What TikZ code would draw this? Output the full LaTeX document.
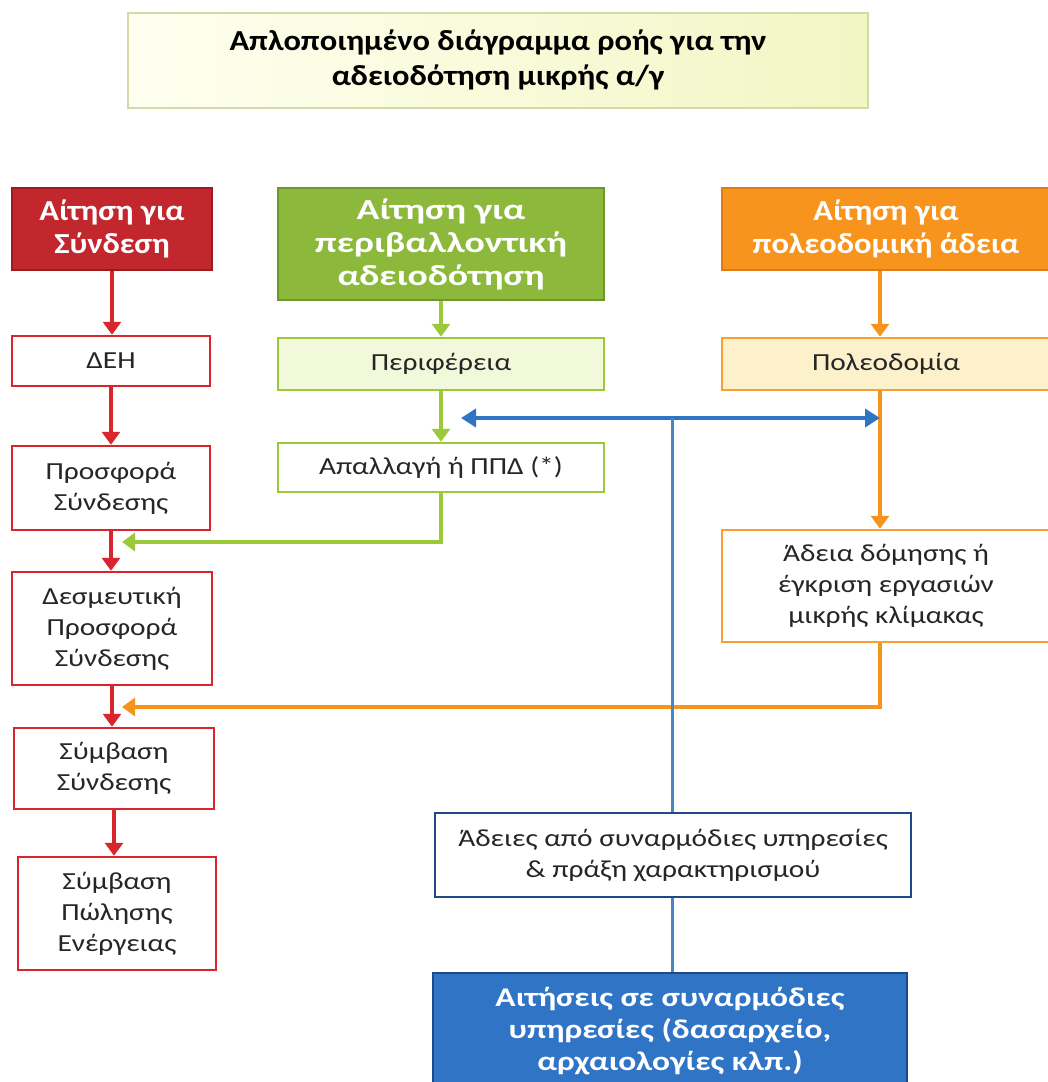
\documentclass[tikz,border=0pt]{standalone}
\usepackage{fontspec}
\setmainfont{Carlito}[FakeStretch=1.2]
\newfontfamily\titlefont{Carlito}[FakeStretch=1.12]
\newfontfamily\headfont{Carlito}[FakeStretch=1.12]
\newfontfamily\headfontw{Carlito}[FakeStretch=1.3]
\newfontfamily\reqfont{Carlito}[FakeStretch=1.24]
\usetikzlibrary{arrows.meta,calc}
\definecolor{hred}{HTML}{C1272D}
\definecolor{hredd}{HTML}{9A1C20}
\definecolor{bred}{HTML}{D8262C}
\definecolor{hgreen}{HTML}{8CB83C}
\definecolor{hgreend}{HTML}{6E962A}
\definecolor{lgreen}{HTML}{F2F8DA}
\definecolor{bgreen}{HTML}{9CC93A}
\definecolor{horange}{HTML}{F7941E}
\definecolor{horanged}{HTML}{E07A12}
\definecolor{lorange}{HTML}{FDF1CC}
\definecolor{borange}{HTML}{F7A035}
\definecolor{hblue}{HTML}{3074C6}
\definecolor{hblued}{HTML}{1F4A86}
\definecolor{bblue}{HTML}{4A84C8}
\definecolor{tborder}{HTML}{D2DAA8}
\definecolor{tleft}{HTML}{FFFFF0}
\definecolor{tright}{HTML}{F2F6C4}
\definecolor{txt}{HTML}{262626}
\begin{document}
\begin{tikzpicture}[x=1pt,y=-1pt,
  head/.style={align=center, inner sep=0pt, text=white, line width=2.5pt,
    font=\headfont\fontsize{29}{33}\selectfont\bfseries},
  bodyfont/.style={font=\fontsize{24.5}{31}\selectfont, text=txt},
  redbox/.style={bodyfont, align=center, inner sep=0pt, draw=bred, fill=white, line width=2.5pt},
  greenbox/.style={bodyfont, align=center, inner sep=0pt, draw=bgreen, line width=2.5pt},
  orangebox/.style={bodyfont, align=center, inner sep=0pt, draw=borange, line width=2.5pt},
  rarr/.style={draw=bred, line width=4.5pt, -{Triangle[width=18pt,length=13pt]}},
  garr/.style={draw=bgreen, line width=4.5pt, -{Triangle[width=18pt,length=13pt]}},
  oarr/.style={draw=horange, line width=4pt, -{Triangle[width=18pt,length=13pt]}},
  barr/.style={draw=hblue, line width=4.5pt, {Triangle[width=18pt,length=15pt]}-{Triangle[width=18pt,length=15pt]}},
  bline/.style={draw=bblue, line width=3pt}
]
\useasboundingbox (0,0) rectangle (1048,1082);
\fill[white] (0,0) rectangle (1048,1082);

% title
\node[draw=tborder, line width=2pt, left color=tleft, right color=tright,
  minimum width=740pt, minimum height=95pt, align=center, inner sep=0pt,
  font=\titlefont\fontsize{29}{35}\selectfont\bfseries] (title) at (498,60)
  {Απλοποιημένο διάγραμμα ροής για την\\αδειοδότηση μικρής α/γ};

% headers
\node[head, draw=hredd, fill=hred, minimum width=200pt, minimum height=82pt] (hR) at (112,229)
  {Αίτηση για\\Σύνδεση};
\node[head, font=\headfontw\fontsize{29}{33}\selectfont\bfseries, draw=hgreend, fill=hgreen,
  minimum width=326pt, minimum height=112pt] (hG) at (441,244)
  {Αίτηση για\\περιβαλλοντική\\αδειοδότηση};
\node[head, draw=horanged, fill=horange, minimum width=328pt, minimum height=82pt] (hO) at (886,229)
  {Αίτηση για\\πολεοδομική άδεια};

% red column
\node[redbox, minimum width=198pt, minimum height=50pt] (deh) at (111,361) {ΔΕΗ};
\node[redbox, minimum width=198pt, minimum height=84pt] (prosf) at (111,488) {Προσφορά\\Σύνδεσης};
\node[redbox, minimum width=200pt, minimum height=113pt] (desm) at (112,628.5) {Δεσμευτική\\Προσφορά\\Σύνδεσης};
\node[redbox, minimum width=200pt, minimum height=81pt] (symb) at (114,768.5) {Σύμβαση\\Σύνδεσης};
\node[redbox, minimum width=198pt, minimum height=113pt] (polisi) at (117,913.5) {Σύμβαση\\Πώλησης\\Ενέργειας};

% green column
\node[greenbox, fill=lgreen, minimum width=326pt, minimum height=52pt] (per) at (441,364) {Περιφέρεια};
\node[greenbox, fill=white, minimum width=326pt, minimum height=49pt] (apal) at (441,467.5) {Απαλλαγή ή ΠΠΔ (*)};

% orange column
\node[orangebox, fill=lorange, minimum width=328pt, minimum height=52pt] (pol) at (886,364) {Πολεοδομία};
\node[orangebox, fill=white, minimum width=328pt, minimum height=112pt] (adeia) at (886,586)
  {Άδεια δόμησης ή\\έγκριση εργασιών\\μικρής κλίμακας};

% blue
\node[bodyfont, align=center, inner sep=0pt, draw=hblued, fill=white, line width=2.5pt,
  minimum width=476pt, minimum height=84pt] (adeies) at (673,855)
  {Άδειες από συναρμόδιες υπηρεσίες\\\& πράξη χαρακτηρισμού};
\node[align=center, inner sep=0pt, text=white, draw=hblued, fill=hblue, line width=2.5pt,
  font=\reqfont\fontsize{27}{32}\selectfont\bfseries,
  minimum width=474pt, minimum height=116pt] (req) at (670,1031)
  {Αιτήσεις σε συναρμόδιες\\υπηρεσίες (δασαρχείο,\\αρχαιολογίες κλπ.)};

% red arrows
\draw[rarr] (hR.south) -- (hR.south |- deh.north);
\draw[rarr] (deh.south) -- (deh.south |- prosf.north);
\draw[rarr] (prosf.south) -- (prosf.south |- desm.north);
\draw[rarr] (desm.south) -- (desm.south |- symb.north);
\draw[rarr] (symb.south) -- (symb.south |- polisi.north);

% green arrows
\draw[garr] (hG.south) -- (per.north);
\draw[garr] (per.south) -- (apal.north);
\coordinate (gEnd) at (122,542);
\draw[garr] (apal.south) |- (gEnd);

% orange arrows
\coordinate (oTop) at (880,390);
\coordinate (oEnd) at (122,707);
\draw[oarr] (hO.south -| oTop) -- (oTop |- pol.north);
\draw[oarr] (oTop) -- (oTop |- adeia.north);
\draw[oarr] (adeia.south -| oTop) |- (oEnd);

% blue connectors
\coordinate (bL) at (461,418);
\coordinate (bR) at (880,418);
\coordinate (bJ) at (672,418);
\draw[barr] (bL) -- (bR);
\draw[bline] (bJ) -- (bJ |- adeies.north);
\draw[bline] (adeies.south -| bJ) -- (bJ |- req.north);
\end{tikzpicture}
\end{document}
